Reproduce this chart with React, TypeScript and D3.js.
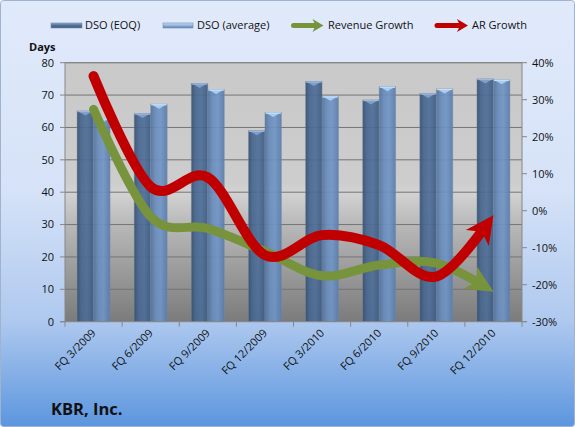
import React, { useEffect, useRef } from "react";
import * as d3 from "d3";

// Quarterly DSO and growth figures for KBR, Inc.
const categories = [
  "FQ 3/2009",
  "FQ 6/2009",
  "FQ 9/2009",
  "FQ 12/2009",
  "FQ 3/2010",
  "FQ 6/2010",
  "FQ 9/2010",
  "FQ 12/2010",
];
const dsoEoq = [65.1, 64.3, 73.6, 59.0, 74.2, 68.5, 70.5, 75.0];
const dsoAverage = [62.8, 67.2, 71.7, 64.6, 69.6, 72.6, 71.9, 74.7];
const revenueGrowth = [0.274, -0.016, -0.048, -0.11, -0.176, -0.147, -0.142, -0.219];
const arGrowth = [0.364, 0.065, 0.09, -0.12, -0.066, -0.093, -0.178, -0.012];
const daysTicks = [0, 10, 20, 30, 40, 50, 60, 70, 80];
const pctTicks = [-0.3, -0.2, -0.1, 0, 0.1, 0.2, 0.3, 0.4];

const W = 575;
const H = 427;
const FONT = "'Open Sans', 'Noto Sans', sans-serif";

export default function App() {
  const ref = useRef<SVGSVGElement>(null);

  useEffect(() => {
    const svg = d3.select(ref.current);
    svg.selectAll("*").remove();

    const plot = { left: 65, right: 522, top: 62.7, bottom: 321.7 };

    const x = d3.scaleBand<string>().domain(categories).range([plot.left, plot.right]).padding(0);
    const yDays = d3.scaleLinear().domain([0, 80]).range([plot.bottom, plot.top]);
    const yPct = d3.scaleLinear().domain([-0.3, 0.4]).range([plot.bottom, plot.top]);

    const defs = svg.append("defs");

    const bg = defs.append("linearGradient").attr("id", "chartBg").attr("x1", 0).attr("y1", 0).attr("x2", 0).attr("y2", 1);
    [
      [0, "#e1eafb"],
      [0.45, "#d5e2f7"],
      [0.75, "#afc9ef"],
      [1, "#5c96de"],
    ].forEach(([o, c]) => bg.append("stop").attr("offset", o as number).attr("stop-color", c as string));

    const pbg = defs.append("linearGradient").attr("id", "plotBg").attr("x1", 0).attr("y1", 0).attr("x2", 0).attr("y2", 1);
    [
      [0, "#c9c9c9"],
      [0.46, "#cdcdcd"],
      [0.5, "#d3d3d3"],
      [0.62, "#b9b9b9"],
      [1, "#7b7b7b"],
    ].forEach(([o, c]) => pbg.append("stop").attr("offset", o as number).attr("stop-color", c as string));

    const eoqGrad = defs.append("linearGradient").attr("id", "eoqGrad").attr("x1", 0).attr("y1", 0).attr("x2", 1).attr("y2", 0);
    [
      [0, "#34506f"],
      [0.25, "#48668f"],
      [0.6, "#4f6f99"],
      [1, "#3d5b82"],
    ].forEach(([o, c]) => eoqGrad.append("stop").attr("offset", o as number).attr("stop-color", c as string));

    const avgGrad = defs.append("linearGradient").attr("id", "avgGrad").attr("x1", 0).attr("y1", 0).attr("x2", 1).attr("y2", 0);
    [
      [0, "#52739f"],
      [0.3, "#6a8dbc"],
      [0.6, "#7095c5"],
      [1, "#5b7dab"],
    ].forEach(([o, c]) => avgGrad.append("stop").attr("offset", o as number).attr("stop-color", c as string));

    const legEoq = defs.append("linearGradient").attr("id", "legEoq").attr("x1", 0).attr("y1", 0).attr("x2", 0).attr("y2", 1);
    [
      [0, "#8aa6cc"],
      [0.5, "#4f6f99"],
      [1, "#3d5b82"],
    ].forEach(([o, c]) => legEoq.append("stop").attr("offset", o as number).attr("stop-color", c as string));
    const legAvg = defs.append("linearGradient").attr("id", "legAvg").attr("x1", 0).attr("y1", 0).attr("x2", 0).attr("y2", 1);
    [
      [0, "#c8e0f8"],
      [0.5, "#8fb2de"],
      [1, "#5f82b2"],
    ].forEach(([o, c]) => legAvg.append("stop").attr("offset", o as number).attr("stop-color", c as string));

    // chart area
    svg
      .append("rect")
      .attr("x", 0.5)
      .attr("y", 0.5)
      .attr("width", W - 1)
      .attr("height", H - 1)
      .attr("rx", 3)
      .attr("fill", "url(#chartBg)")
      .attr("stroke", "#9fb3cf");

    // plot area
    svg
      .append("rect")
      .attr("x", plot.left)
      .attr("y", plot.top)
      .attr("width", plot.right - plot.left)
      .attr("height", plot.bottom - plot.top)
      .attr("fill", "url(#plotBg)");

    // gridlines
    svg
      .append("g")
      .selectAll("line")
      .data(daysTicks.filter((d) => d > 0))
      .join("line")
      .attr("x1", plot.left)
      .attr("x2", plot.right)
      .attr("y1", (d) => yDays(d))
      .attr("y2", (d) => yDays(d))
      .attr("stroke", "#747474")
      .attr("stroke-width", 1);

    // bars
    const bw = 16.5;
    const barG = svg.append("g");
    const drawBars = (vals: number[], offset: number, grad: string, cap: string, capEdge: string) => {
      categories.forEach((c, i) => {
        const cx = (x(c) as number) + x.bandwidth() / 2;
        const x0 = cx + offset;
        const top = yDays(vals[i]);
        barG
          .append("rect")
          .attr("x", x0)
          .attr("y", top)
          .attr("width", bw)
          .attr("height", plot.bottom - top)
          .attr("fill", `url(#${grad})`)
          .attr("opacity", 0.92)
          .attr("stroke", "#7b8ba3")
          .attr("stroke-opacity", 0.5)
          .attr("stroke-width", 0.8);
        barG
          .append("polygon")
          .attr("points", `${x0 + 0.5},${top} ${x0 + bw - 0.5},${top} ${x0 + bw / 2},${top + 4.5}`)
          .attr("fill", cap);
        barG
          .append("line")
          .attr("x1", x0 + 0.5)
          .attr("x2", x0 + bw - 0.5)
          .attr("y1", top + 0.6)
          .attr("y2", top + 0.6)
          .attr("stroke", capEdge)
          .attr("stroke-width", 1.2);
      });
    };
    drawBars(dsoEoq, -bw, "eoqGrad", "#7d9fcb", "#9db9dc");
    drawBars(dsoAverage, 0, "avgGrad", "#a9cdf2", "#c4def7");

    // axes
    const axisColor = "#878787";
    const axG = svg.append("g").attr("stroke", axisColor).attr("stroke-width", 1);
    axG.append("line").attr("x1", plot.left).attr("x2", plot.left).attr("y1", plot.top).attr("y2", plot.bottom);
    axG.append("line").attr("x1", plot.right).attr("x2", plot.right).attr("y1", plot.top).attr("y2", plot.bottom);
    axG.append("line").attr("x1", plot.left - 5).attr("x2", plot.right + 5).attr("y1", plot.bottom).attr("y2", plot.bottom);
    axG.append("line").attr("x1", plot.left).attr("x2", plot.right).attr("y1", plot.top).attr("y2", plot.top);
    daysTicks.forEach((d) => {
      axG.append("line").attr("x1", plot.left - 5).attr("x2", plot.left).attr("y1", yDays(d)).attr("y2", yDays(d));
    });
    pctTicks.forEach((d) => {
      axG.append("line").attr("x1", plot.right).attr("x2", plot.right + 5).attr("y1", yPct(d)).attr("y2", yPct(d));
    });
    d3.range(categories.length + 1).forEach((i) => {
      const xx = plot.left + i * x.bandwidth();
      axG.append("line").attr("x1", xx).attr("x2", xx).attr("y1", plot.bottom).attr("y2", plot.bottom + 5);
    });

    // tick labels
    const txt = svg.append("g").attr("font-family", FONT).attr("font-size", 11).attr("fill", "#111");
    daysTicks.forEach((d) => {
      txt
        .append("text")
        .attr("x", 54)
        .attr("y", yDays(d))
        .attr("dy", "0.35em")
        .attr("text-anchor", "end")
        .text(String(d));
    });
    const pctFmt = d3.format(".0%");
    pctTicks.forEach((d) => {
      txt
        .append("text")
        .attr("x", 532)
        .attr("y", yPct(d))
        .attr("dy", "0.35em")
        .attr("text-anchor", "start")
        .text(pctFmt(d).replace("−", "-"));
    });
    categories.forEach((c) => {
      const cx = (x(c) as number) + x.bandwidth() / 2;
      txt
        .append("text")
        .attr("transform", `translate(${cx + 3},${plot.bottom + 12}) rotate(-45)`)
        .attr("text-anchor", "end")
        .text(c);
    });

    svg
      .append("text")
      .attr("x", 29)
      .attr("y", 51)
      .attr("font-family", FONT)
      .attr("font-size", 11)
      .attr("font-weight", "bold")
      .attr("fill", "#111")
      .text("Days");

    svg
      .append("text")
      .attr("x", 51)
      .attr("y", 415)
      .attr("font-family", FONT)
      .attr("font-size", 16.5)
      .attr("font-weight", "bold")
      .attr("fill", "#111")
      .text("KBR, Inc.");

    // growth lines with arrowheads
    const line = d3
      .line<number>()
      .x((_, i) => (x(categories[i]) as number) + x.bandwidth() / 2)
      .y((d) => yPct(d))
      .curve(d3.curveCardinal.tension(0));

    const arrowHead = (L: number, Wd: number) =>
      `0,0 ${-L},${-Wd / 2} ${-L * 0.72},0 ${-L},${Wd / 2}`;

    const drawGrowth = (vals: number[], color: string, width: number, L: number, Wd: number) => {
      const g = svg.append("g");
      const p = g
        .append("path")
        .attr("d", line(vals) as string)
        .attr("fill", "none")
        .attr("stroke", color)
        .attr("stroke-width", width)
        .attr("stroke-linecap", "round")
        .attr("stroke-linejoin", "round");
      const node = p.node() as SVGPathElement;
      const len = node.getTotalLength();
      const tip = node.getPointAtLength(len);
      const back = node.getPointAtLength(len - 10);
      const ang = (Math.atan2(tip.y - back.y, tip.x - back.x) * 180) / Math.PI;
      p.attr("stroke-dasharray", `${len - L * 0.7} ${len + 50}`);
      g.append("polygon")
        .attr("points", arrowHead(L, Wd))
        .attr("fill", color)
        .attr("transform", `translate(${tip.x},${tip.y}) rotate(${ang})`);
    };
    drawGrowth(revenueGrowth, "#77933c", 9, 27, 26);
    drawGrowth(arGrowth, "#c00000", 10, 28, 28);

    // legend
    const leg = svg.append("g").attr("font-family", FONT).attr("font-size", 11).attr("fill", "#111");
    const ly = 25.5;
    leg.append("rect").attr("x", 51).attr("y", ly - 2.5).attr("width", 31).attr("height", 5).attr("fill", "url(#legEoq)").attr("stroke", "#7b8ba3").attr("stroke-width", 0.6);
    leg.append("text").attr("x", 85).attr("y", ly).attr("dy", "0.35em").text("DSO (EOQ)");
    leg.append("rect").attr("x", 163).attr("y", ly - 2.5).attr("width", 30).attr("height", 5).attr("fill", "url(#legAvg)").attr("stroke", "#7b8ba3").attr("stroke-width", 0.6);
    leg.append("text").attr("x", 197).attr("y", ly).attr("dy", "0.35em").text("DSO (average)");

    const legArrow = (x0: number, x1: number, color: string) => {
      leg.append("line").attr("x1", x0 + 2).attr("x2", x1 - 8).attr("y1", ly).attr("y2", ly).attr("stroke", color).attr("stroke-width", 5).attr("stroke-linecap", "round");
      leg.append("polygon").attr("points", arrowHead(11, 13)).attr("fill", color).attr("transform", `translate(${x1},${ly})`);
    };
    legArrow(291.5, 323.5, "#77933c");
    leg.append("text").attr("x", 328).attr("y", ly).attr("dy", "0.35em").text("Revenue Growth");
    legArrow(435, 468, "#c00000");
    leg.append("text").attr("x", 472).attr("y", ly).attr("dy", "0.35em").text("AR Growth");
  }, []);

  return (
    <svg
      ref={ref}
      width={W}
      height={H}
      style={{ position: "absolute", left: 0, top: 0, display: "block" }}
    />
  );
}
